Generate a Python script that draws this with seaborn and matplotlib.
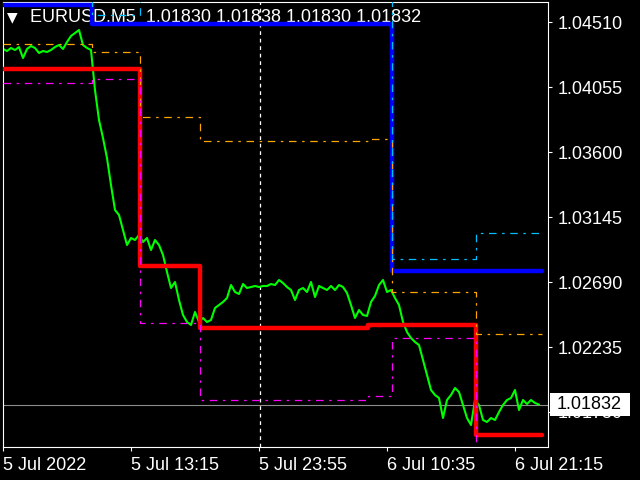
import matplotlib
matplotlib.use("Agg")
import matplotlib.pyplot as plt
from matplotlib.patches import Rectangle
import pandas as pd
import seaborn as sns

# 5 minute EURUSD chart, closes read every 4 bars (20 min)
START = "2022-07-05 02:35"
close = [
    1.04321, 1.04307, 1.04328, 1.04314, 1.04335, 1.04258, 1.04321, 1.04342,
    1.04328, 1.04293, 1.04307, 1.04300, 1.04314, 1.04335, 1.04349, 1.04321,
    1.04370, 1.04412, 1.04433, 1.04454, 1.04349, 1.04328, 1.04314,
    1.04034, 1.03824, 1.03698, 1.03558, 1.03369, 1.03194, 1.03159, 1.03054,
    1.02949, 1.02998, 1.02984, 1.03019, 1.02970, 1.02998, 1.02914, 1.02984,
    1.02949, 1.02879, 1.02760, 1.02648, 1.02690,
    1.02564, 1.02459, 1.02410, 1.02389, 1.02480, 1.02410, 1.02438, 1.02410,
    1.02424, 1.02508, 1.02529, 1.02550, 1.02578, 1.02669, 1.02620, 1.02606,
    1.02676, 1.02648, 1.02655, 1.02662, 1.02655, 1.02662, 1.02662, 1.02676,
    1.02669, 1.02704, 1.02683, 1.02655, 1.02634, 1.02564, 1.02634, 1.02648,
    1.02620, 1.02690, 1.02585, 1.02662, 1.02648, 1.02634, 1.02662, 1.02634,
    1.02669, 1.02655, 1.02613, 1.02529, 1.02438, 1.02494, 1.02459, 1.02452,
    1.02550, 1.02592, 1.02669, 1.02704, 1.02620, 1.02634, 1.02578, 1.02529,
    1.02410, 1.02340, 1.02298, 1.02270, 1.02249,
    1.02144, 1.02039, 1.01934, 1.01899, 1.01878, 1.01738, 1.01864, 1.01899,
    1.01948, 1.01920, 1.01829, 1.01738, 1.01689, 1.01864, 1.01829, 1.01724,
    1.01710, 1.01738, 1.01724, 1.01780, 1.01829, 1.01864, 1.01878, 1.01934,
    1.01794, 1.01864, 1.01836, 1.01864, 1.01843, 1.01832,
]

# indicator levels, changing at these times
level_times = ["2022-07-05 02:35", "2022-07-05 10:00", "2022-07-05 14:00",
               "2022-07-05 19:00", "2022-07-06 09:00", "2022-07-06 11:00",
               "2022-07-06 18:00", "2022-07-06 23:30"]
red_level = [1.04181, 1.04181, 1.02802, 1.02368, 1.02389, 1.02389, 1.01619, 1.01619]
blue_level = [1.04629, 1.04496, 1.04496, 1.04496, 1.04496, 1.02767, 1.02767, 1.02767]
orange_level = [1.04356, 1.04300, 1.03845, 1.03677, 1.03691, 1.02620, 1.02326, 1.02326]
magenta_level = [1.04083, 1.04111, 1.02403, 1.01864, 1.01892, 1.02298, 1.01400, 1.01400]
cyan_level = [1.04700, 1.04559, 1.04700, 1.04700, 1.04700, 1.02851, 1.03033, 1.03033]

y_ticks = [1.04510, 1.04055, 1.03600, 1.03145, 1.02690, 1.02235, 1.01780]
x_tick_times = ["2022-07-05 02:35", "2022-07-05 13:15", "2022-07-05 23:55",
                "2022-07-06 10:35", "2022-07-06 21:15"]
x_tick_labels = ["5 Jul 2022", "5 Jul 13:15", "5 Jul 23:55", "6 Jul 10:35", "6 Jul 21:15"]
day_separator = "2022-07-06 00:00"
bid = 1.01832
header = "EURUSD.M5  1.01830 1.01838 1.01830 1.01832"

sns.set_theme(style="dark", rc={
    "figure.facecolor": "black",
    "axes.facecolor": "black",
    "axes.edgecolor": "white",
    "axes.grid": False,
})
plt.rcParams["font.family"] = ["Liberation Sans", "DejaVu Sans"]

fig = plt.figure(figsize=(6.4, 4.8), dpi=100)
ax = fig.add_axes([3 / 640, 33 / 480, 545 / 640, 445 / 480])

price = pd.DataFrame({
    "time": pd.date_range(START, periods=len(close), freq="20min"),
    "close": close,
})
levels = pd.DataFrame({
    "time": pd.to_datetime(level_times),
    "red": red_level, "blue": blue_level, "orange": orange_level,
    "magenta": magenta_level, "cyan": cyan_level,
})

sns.lineplot(data=price, x="time", y="close", color="#00ff00", lw=1.5, ax=ax, zorder=2)

for col, c in [("red", "#ff0000"), ("blue", "#0000ff")]:
    sns.lineplot(data=levels, x="time", y=col, color=c, lw=3.2,
                 drawstyle="steps-post", ax=ax, zorder=3)

dashdot = (0, (6, 4.5, 2, 4.5))
for col, c in [("orange", "#ffa500"), ("magenta", "#ff00ff"), ("cyan", "#00bfff")]:
    sns.lineplot(data=levels, x="time", y=col, color=c, lw=0.9,
                 linestyle=dashdot, drawstyle="steps-post", ax=ax, zorder=4)

ax.axhline(bid, color="#8c8c8c", lw=0.8, zorder=1)
ax.axvline(pd.Timestamp(day_separator), color="white", lw=0.9,
           linestyle=(0, (3, 3)), zorder=1)

ax.set_xlim(pd.Timestamp(START), pd.Timestamp("2022-07-07 00:00"))
ax.set_ylim(1.01535, 1.04650)

ax.yaxis.tick_right()
ax.set_yticks(y_ticks)
ax.set_yticklabels([f"{v:.5f}" for v in y_ticks])
ax.set_xticks(pd.to_datetime(x_tick_times))
ax.set_xticklabels(x_tick_labels, ha="left")
ax.tick_params(axis="both", colors="white", labelcolor="white", labelsize=13,
               length=3, width=0.8, direction="out")
ax.tick_params(axis="y", pad=4, right=True, left=False)
ax.tick_params(axis="x", pad=4, bottom=True)
ax.set_xlabel("")
ax.set_ylabel("")
for s in ax.spines.values():
    s.set_color("white")
    s.set_linewidth(0.8)

# header text, kept under the indicator lines like the terminal does
ax.text(7 / 640, 1 - 17 / 480, "\u25bc", color="white", fontsize=10,
        family="DejaVu Sans", va="center", ha="left",
        transform=fig.transFigure, zorder=1, clip_on=False)
ax.text(30 / 640, 1 - 17 / 480, header, color="white", fontsize=13,
        va="center", ha="left", transform=fig.transFigure, zorder=1, clip_on=False)

# current price label on the axis
fig.canvas.draw()
y_pix = ax.transData.transform((0, bid))[1]
fig.add_artist(Rectangle((550 / 640, (y_pix - 11.5) / 480), 80 / 640, 23 / 480,
                         transform=fig.transFigure, facecolor="white",
                         edgecolor="none", zorder=5))
fig.text(557 / 640, y_pix / 480, f"{bid:.5f}", color="black", fontsize=13,
         va="center", ha="left", zorder=6)

fig.savefig("out.png", dpi=100, facecolor="black")
